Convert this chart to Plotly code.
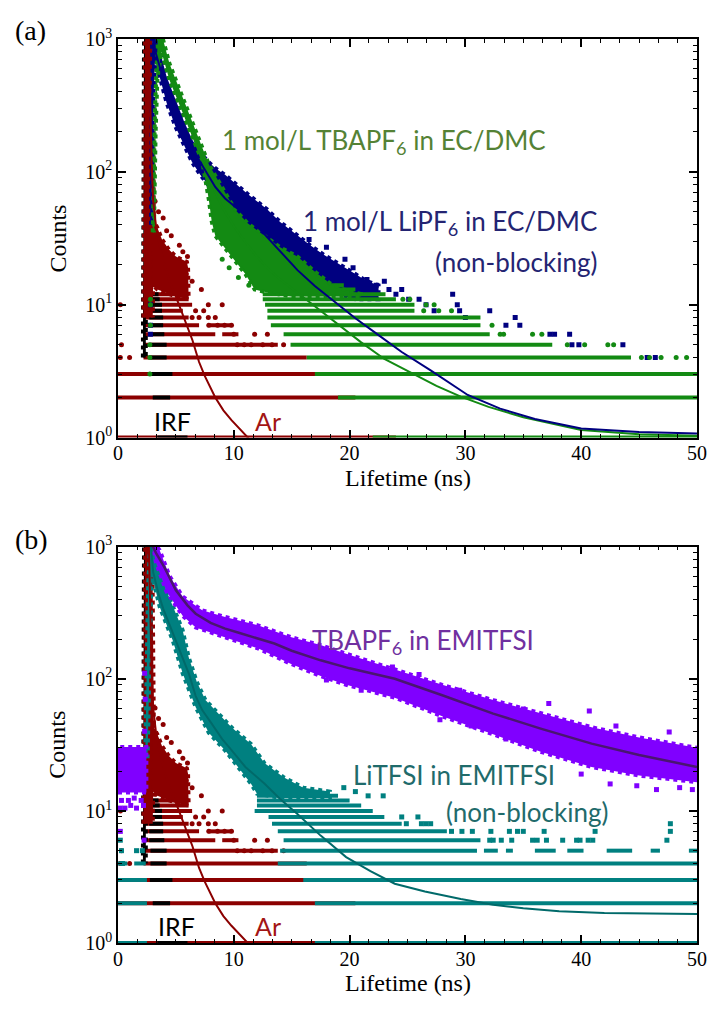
import plotly.graph_objects as go

# ======================= DATA =======================
# ---- Ar (dark red), same measurement in both panels ----
ar_spike_t = [2.2, 2.35, 2.95, 3.1, 3.0]
ar_spike_c = [8, 1300, 1300, 40, 8]
ar_cluster_t = [2.95, 3.4, 3.8, 4.4, 5.0, 5.6, 5.95, 6.05, 6.1, 5.0, 4.0, 3.4, 3.0]
ar_cluster_c = [45, 38, 31, 26, 23, 21.5, 21, 19, 11, 11.5, 12.5, 13, 14]
ar_row_c = [1, 2, 3, 4, 5, 6, 6, 7, 7, 8, 9, 10, 11, 12]
ar_row_t0 = [0, 0, 0, 2.2, 2.2, 2.2, 9.0, 2.2, 7.8, 2.2, 2.2, 2.2, 2.6, 2.8]
ar_row_t1 = [24, 20.5, 20, 16.3, 13.8, 8.4, 10.4, 7.0, 9.8, 6.1, 5.6, 6.4, 6.1, 6.1]
ar_dot_t = [0.2, 1.0, 0.3, 0.2, 10.3, 10.9, 11.5, 12.5, 13.3, 14.3, 10.0, 11.8, 12.9, 7.84, 8.6,
            9.2, 9.8, 6.4, 7.0, 7.8, 8.4, 6.7, 7.4, 7.8, 9.0, 7.2, 6.4, 5.9, 5.3, 4.6, 3.9,
            3.2, 3.5, 4.2, 5.6, 6.0]
ar_dot_c = [4, 4, 5, 10, 5, 5, 5, 5, 5, 5, 6, 6, 6, 7, 7,
            7, 7, 8, 8, 8, 8, 9, 9, 10, 10, 13, 15, 17, 28, 33, 45,
            60, 50, 36, 25, 23]
ar_fit_t = [2.62, 2.68, 2.8, 2.9, 3.04, 3.3, 3.6, 4.0, 4.5, 5.0, 5.58, 6.0, 6.43, 7.0, 7.5,
            8.4, 9.1, 9.8, 10.4, 10.95, 11.5]
ar_fit_c = [1500, 1000, 300, 120, 60, 38, 28, 20, 14.5, 11.5, 8.5, 6.8, 5.4, 3.7, 2.9,
            2.0, 1.6, 1.35, 1.18, 1.05, 0.94]

# ---- IRF (black), same in both panels ----
irf_spike_t = [2.15, 2.25, 2.45, 2.4]
irf_spike_c = [4, 1300, 1300, 4]
irf_row_c = [1, 2, 3, 4, 5, 6, 7, 8, 9, 10, 11, 12]
irf_row_t0 = [3.4, 3.0, 2.75, 2.8, 2.8, 2.7, 2.7, 2.7, 2.6, 2.6, 2.5, 2.5]
irf_row_t1 = [6.0, 4.5, 4.7, 4.2, 4.2, 4.0, 3.9, 3.9, 3.8, 3.8, 3.6, 3.5]

# ---- (a) 1 mol/L LiPF6 in EC/DMC (navy) ----
navy_poly_t = [2.85, 2.95, 3.35, 3.6, 4.2, 5.0, 5.7, 6.4, 7.1, 7.84, 8.5, 9.25, 10.2, 11.2, 12.0,
               12.9, 14.0, 15.5, 16.6, 17.7, 19.1, 20.5, 21.5, 22.5,
               22.5, 20.5, 19.1, 17.7, 15.5, 13.5, 12.0, 11.2, 10.2, 9.25, 8.5, 7.84, 7.1, 6.4,
               5.7, 5.0, 4.2, 3.6, 3.2, 3.0, 2.95]
navy_poly_c = [40, 1100, 1100, 820, 520, 340, 240, 175, 140, 118, 105, 95, 80, 68, 60,
               52, 42, 33, 28, 24, 20, 17, 15, 14,
               11, 11, 12, 13, 15, 20, 27, 35, 42, 55, 66, 78, 95, 118,
               160, 215, 330, 500, 700, 300, 40]
navy_dot_t = [28.9, 32.1, 34.3, 33.5, 34.7, 37.3, 37.7, 39.0, 39.2, 39.8, 43.6, 45.7, 46.4, 21.5,
              22.3, 23.4, 24.0, 25.1, 26.0, 26.6, 27.3, 29.3, 29.5, 30.0, 16.5, 18.0, 19.6, 20.3,
              2.8, 2.8, 2.8, 23.0, 24.5]
navy_dot_c = [12, 9, 8, 7, 7, 6, 6, 6, 5, 5, 5, 4, 4, 15.5,
              14, 13, 12, 11, 11, 10, 9, 10, 9, 8, 31, 27, 22, 19,
              6, 7, 10, 15, 13]
navy_fit_t = [3.0, 3.2, 3.6, 4.2, 5.0, 5.8, 6.5, 7.2, 7.84, 8.4, 9.25, 10.2, 11.2, 12.5, 14.0,
              15.5, 17.0, 18.86, 20.5, 22.5, 24.5, 27.0, 30.2, 33.0, 36.0, 40.0, 45.0, 50.0]
navy_fit_c = [1100, 820, 620, 420, 273, 190, 145, 115, 91, 77, 63, 54, 45.7, 35, 25,
              18.2, 13.8, 10.2, 7.9, 5.9, 4.4, 3.2, 2.09, 1.65, 1.38, 1.17, 1.1, 1.07]

# ---- (a) 1 mol/L TBAPF6 in EC/DMC (green) ----
green_poly_t = [3.0, 3.2, 3.45, 3.75, 4.45, 5.58, 6.71, 7.84, 8.97, 10.1, 11.2, 12.6, 14.0, 15.5,
                16.9, 18.3, 19.5, 21.0,
                21.0, 18.0, 15.0, 12.6, 11.8, 11.0, 9.8, 8.4, 8.1, 7.84, 7.27, 5.86, 4.45, 3.75,
                3.4, 3.25, 3.1]
green_poly_c = [35, 300, 1100, 1100, 650, 363, 202, 114, 77, 52, 41, 33, 27, 23,
                18, 14.5, 13, 12,
                11.5, 11.5, 11.5, 12.5, 13, 17, 23, 33, 42, 62, 120, 245, 490, 800,
                500, 200, 35]
green_row_c = [1, 2, 3, 4, 5, 6, 7, 8, 9, 10, 11, 12, 13, 14]
green_row_t0 = [22, 19, 17, 16.3, 14.9, 14.3, 13.2, 12.9, 12.9, 12.7, 12.5, 12.5, 13.0, 14.0]
green_row_t1 = [50, 50, 50, 44.3, 37.5, 32.1, 31.3, 31.3, 25.6, 25.6, 24.0, 23.1, 20.5, 19.5]
green_dot_t = [45.2, 45.9, 46.9, 48.2, 49.1, 38.8, 40.3, 42.3, 42.8, 33.0, 33.3, 35.8, 36.6, 32.3,
               26.4, 27.7, 28.8, 26.6, 27.3, 24.6, 25.2, 2.75, 2.75, 2.75, 2.8, 2.8, 2.8,
               9.0, 9.6, 10.4, 11.3]
green_dot_c = [4, 4, 4, 4, 4, 5, 5, 5, 5, 6, 6, 6, 6, 7,
               9, 9, 9, 10, 10, 11, 11, 3, 4, 5, 7, 10, 11,
               22, 19, 16, 14]
green_fit_t = [3.5, 3.75, 4.45, 5.0, 5.58, 6.14, 6.71, 7.3, 7.84, 8.4, 9.0, 10.0, 11.0, 12.0, 13.0,
               14.0, 15.5, 17.0, 18.86, 21.0, 23.0, 25.4, 27.5, 29.6, 32.0, 35.0, 40.0, 45.0, 50.0]
green_fit_c = [1100, 900, 570, 420, 300, 220, 165, 120, 92, 70, 54, 39, 29.5, 23, 18.5,
               15.5, 12.3, 9.7, 7.2, 5.2, 3.9, 3.04, 2.45, 2.03, 1.7, 1.42, 1.14, 1.06, 1.03]

# ---- (b) TBAPF6 in EMITFSI (purple) ----
purple_poly_t = [2.95, 3.0, 3.6, 4.45, 5.58, 7.27, 9.25, 12.08, 14.9, 17.5, 19.7, 23.9, 28.0, 32.4,
                 36.5, 40.9, 45.0, 50.0,
                 50.0, 45.0, 40.9, 36.5, 32.4, 28.0, 23.9, 19.7, 17.5, 14.9, 12.08, 9.25, 6.71,
                 5.58, 4.17, 3.3, 2.95]
purple_poly_c = [1100, 1100, 940, 600, 420, 330, 294, 254, 207, 180, 155, 118, 90, 69,
                 55, 43, 36, 30,
                 16.5, 18.5, 21.5, 28, 38, 52, 72, 90, 105, 130, 170, 205, 245,
                 300, 460, 750, 1000]
purple_bg_t = [0, 2.45, 2.45, 0]
purple_bg_c = [13.8, 13.8, 30.5, 30.5]
purple_dot_t = [23.7, 37.2, 40.7, 47.6, 40.0, 42.5, 44.8, 46.5, 48.5, 49.6, 33.5, 30.5,
                27.8, 21.0, 18.0, 26.0, 29.5, 35.0, 43.0, 0.2, 0.6, 1.1, 1.6, 2.2, 0.2, 2.25,
                0.3, 0.9, 1.4, 2.0, 2.3, 2.35, 2.3]
purple_dot_c = [123, 65, 57, 39.5, 19, 16, 15.5, 14.5, 15, 14.5, 35, 44,
                49, 82, 98, 108, 82, 59, 44, 10.5, 10.5, 11, 10.5, 11, 7, 6,
                12, 12, 12.5, 12, 40, 70, 110]
purple_fit_t = [3.0, 3.3, 4.0, 5.0, 6.0, 6.71, 8.0, 9.25, 10.5, 12.0, 13.5, 15.0, 17.5, 20.0,
                23.9, 28.0, 32.4, 36.5, 40.9, 45.0, 50.0]
purple_fit_c = [1000, 890, 700, 468, 360, 311, 265, 240, 222, 203, 185, 163, 138, 120,
                100, 75, 54.5, 42, 32.3, 26.5, 21.5]

# ---- (b) LiTFSI in EMITFSI (teal) ----
teal_poly_t = [2.35, 2.6, 2.8, 3.1, 4.17, 5.58, 6.1, 6.8, 7.55, 8.7, 9.8, 11.5, 12.64, 14.3, 16.0,
               18.3,
               18.3, 14.0, 12.0, 11.5, 10.4, 9.25, 7.84, 6.71, 5.58, 4.73, 3.6, 2.9, 2.55]
teal_poly_c = [25, 500, 1100, 1100, 468, 234, 146, 95, 69, 54, 43, 32, 23, 18, 15,
               14,
               12.5, 12.5, 13.5, 16, 21.5, 28.7, 39, 61, 110, 195, 350, 625, 25]
teal_row_c = [1, 1, 2, 2, 3, 3, 4, 4, 4, 5, 5, 5, 5, 5, 5, 5, 5, 6, 7, 8, 9, 10, 11, 12, 13]
teal_row_t0 = [0, 17, 0, 17, 0, 16, 0, 1.4, 13.8, 14.0, 31.6, 33.5, 36.0, 38.8, 42.2, 46.0, 49.3,
               14.3, 13.8, 13.3, 13.0, 11.8, 12.0, 12.0, 12.0]
teal_row_t1 = [2.5, 50, 2.5, 50, 2.5, 50, 0.8, 2.4, 50, 31.0, 32.8, 34.1, 37.8, 40.2, 44.4, 46.8, 50,
               31.3, 28.4, 24.5, 23.0, 22.0, 21.0, 20.0, 19.0]
teal_dot_t = [32.1, 32.4, 33.1, 34.0, 35.8, 36.2, 37.0, 38.4, 39.6, 39.9, 40.6, 41.0, 47.4,
              28.8, 29.7, 30.6, 32.2, 33.8, 34.5, 35.0, 36.8, 41.2, 47.7,
              24.9, 26.2, 26.6, 27.0, 47.7, 24.5, 25.9, 19.5, 20.5, 21.6, 22.9,
              0.3, 1.6, 2.1, 0.2, 0.4]
teal_dot_c = [6, 6, 6, 6, 6, 6, 6, 6, 6, 6, 6, 6, 6,
              7, 7, 7, 7, 7, 7, 7, 7, 7, 7,
              8, 8, 8, 8, 8, 9, 9, 15, 14, 13, 13,
              5, 5, 5, 6, 4]
teal_fit_t = [2.8, 3.04, 3.5, 3.9, 4.5, 5.0, 5.6, 6.14, 6.71, 7.27, 8.0, 8.4, 9.0, 9.82, 11.0,
              12.64, 14.0, 15.47, 17.5, 19.7, 21.8, 23.9, 26.5, 29.6, 32.4, 35.0, 38.1, 42.0,
              46.0, 50.0]
teal_fit_c = [1100, 640, 440, 340, 250, 195, 145, 108, 74, 58, 47, 42, 35, 28.7, 21.5,
              16.1, 12.3, 9.5, 6.5, 4.47, 3.5, 2.81, 2.45, 2.15, 1.95, 1.83, 1.74, 1.69,
              1.67, 1.66]

x_ticks = [0, 10, 20, 30, 40, 50]
y_ticks = [1, 10, 100, 1000]
y_ticktext = ["10<sup>0</sup>", "10<sup>1</sup>", "10<sup>2</sup>", "10<sup>3</sup>"]
y_minor = [m * d for d in (1, 10, 100) for m in range(2, 10)]

# ======================= STYLE =======================
RED = "#8b0000"
NAVY = "#000080"
GREEN = "#138a13"
PURPLE = "#8000ff"
TEAL = "#008080"
ROW_W = 4
DOT = 5

fig = go.Figure()


def rows(levels, t0, t1):
    xs, ys = [], []
    for c, a, b in zip(levels, t0, t1):
        xs += [a, b, None]
        ys += [c, c, None]
    return xs, ys


def add_rows(levels, t0, t1, color, ax):
    xs, ys = rows(levels, t0, t1)
    fig.add_trace(go.Scatter(x=xs, y=ys, mode="lines", line=dict(color=color, width=ROW_W),
                             xaxis=ax[0], yaxis=ax[1], hoverinfo="skip"))


def add_poly(t, c, color, ax):
    # filled band with a dotted outline, so the edge looks like scattered points
    fig.add_trace(go.Scatter(x=t, y=c, mode="lines", fill="toself", fillcolor=color,
                             line=dict(color=color, width=4, dash="dot"),
                             xaxis=ax[0], yaxis=ax[1], hoverinfo="skip"))


def add_dots(t, c, color, ax, symbol="circle"):
    fig.add_trace(go.Scatter(x=t, y=c, mode="markers",
                             marker=dict(color=color, size=DOT, symbol=symbol, line=dict(width=0)),
                             xaxis=ax[0], yaxis=ax[1]))


def add_fit(t, c, color, ax, w=2):
    fig.add_trace(go.Scatter(x=t, y=c, mode="lines", line=dict(color=color, width=w),
                             xaxis=ax[0], yaxis=ax[1]))


A = ("x", "y")
B = ("x2", "y2")

# ---- panel (a) ----
add_rows(ar_row_c, ar_row_t0, ar_row_t1, RED, A)
add_rows(irf_row_c, irf_row_t0, irf_row_t1, "black", A)
add_poly(irf_spike_t, irf_spike_c, "black", A)
add_poly(ar_spike_t, ar_spike_c, RED, A)
add_poly(ar_cluster_t, ar_cluster_c, RED, A)
add_dots(ar_dot_t, ar_dot_c, RED, A)
add_poly(navy_poly_t, navy_poly_c, NAVY, A)
add_dots(navy_dot_t, navy_dot_c, NAVY, A, "square")
add_rows(green_row_c, green_row_t0, green_row_t1, GREEN, A)
add_poly(green_poly_t, green_poly_c, GREEN, A)
add_dots(green_dot_t, green_dot_c, GREEN, A)
add_fit(ar_fit_t, ar_fit_c, RED, A)
add_fit(green_fit_t, green_fit_c, GREEN, A)
add_fit(navy_fit_t, navy_fit_c, NAVY, A)

# ---- panel (b) ----
add_rows(ar_row_c, ar_row_t0, ar_row_t1, RED, B)
add_rows(irf_row_c, irf_row_t0, irf_row_t1, "black", B)
add_poly(irf_spike_t, irf_spike_c, "black", B)
add_poly(ar_spike_t, ar_spike_c, RED, B)
add_poly(ar_cluster_t, ar_cluster_c, RED, B)
add_dots(ar_dot_t, ar_dot_c, RED, B)
add_rows(teal_row_c, teal_row_t0, teal_row_t1, TEAL, B)
add_poly(teal_poly_t, teal_poly_c, TEAL, B)
add_dots(teal_dot_t, teal_dot_c, TEAL, B, "square")
add_poly(purple_bg_t, purple_bg_c, PURPLE, B)
add_poly(purple_poly_t, purple_poly_c, PURPLE, B)
add_dots(purple_dot_t, purple_dot_c, PURPLE, B, "square")
add_fit(ar_fit_t, ar_fit_c, RED, B)
add_fit(teal_fit_t, teal_fit_c, "#006a6a", B)
add_fit(purple_fit_t, purple_fit_c, "#4a1570", B, 2.5)

# ======================= LAYOUT =======================
L, R, T, Bm = 118, 12, 39, 67
W, H = 719, 1010
PW, PH = W - L - R, H - T - Bm

SERIF = "Liberation Serif, Times New Roman, serif"
TICKFONT = dict(family=SERIF, size=20, color="black")


def xax(anchor):
    return dict(range=[0, 50], tickvals=x_ticks, ticks="inside", ticklen=8, tickwidth=1.5,
                tickcolor="black", showline=True, linecolor="black", linewidth=1.5,
                mirror="ticks", showgrid=False, zeroline=False, anchor=anchor,
                tickfont=TICKFONT, ticklabelstandoff=-3,
                minor=dict(ticks="inside", ticklen=4, tickwidth=1.2, tickcolor="black",
                           dtick=10 / 6, tick0=0, showgrid=False))


def yax(domain, anchor):
    return dict(type="log", range=[0, 3], tickvals=y_ticks, ticktext=y_ticktext,
                ticks="inside", ticklen=8, tickwidth=1.5, tickcolor="black",
                showline=True, linecolor="black", linewidth=1.5, mirror="ticks",
                showgrid=False, zeroline=False, domain=domain, anchor=anchor,
                tickfont=TICKFONT,
                minor=dict(ticks="inside", ticklen=4, tickwidth=1.2, tickcolor="black",
                           tickmode="array", tickvals=y_minor, showgrid=False))


def P(xp, yp):
    return (xp - L) / PW, (H - Bm - yp) / PH


top_dom = [P(0, 437.5)[1], 1.0]
bot_dom = [0.0, P(0, 546.7)[1]]

annotations = []


def note(text, xp, yp, color, size, family="Lato", xanchor="left", angle=0):
    x, y = P(xp, yp)
    annotations.append(dict(text=text, x=x, y=y, xref="paper", yref="paper",
                            xanchor=xanchor, yanchor="middle", showarrow=False,
                            textangle=angle, font=dict(family=family, size=size, color=color)))


note("(a)", 29, 31, "black", 28, SERIF, "center")
note("(b)", 30, 539, "black", 28, SERIF, "center")
note("Counts", 56, 238.5, "black", 24, SERIF, "center", -90)
note("Counts", 56, 744.6, "black", 24, SERIF, "center", -90)
note("Lifetime (ns)", 412.5, 478, "black", 24, SERIF, "center")
note("Lifetime (ns)", 412.5, 983, "black", 24, SERIF, "center")

note("1 mol/L TBAPF<sub>6</sub> in EC/DMC", 222, 141, "#548235", 26)
note("1 mol/L LiPF<sub>6</sub> in EC/DMC", 607, 223, "#242472", 26, xanchor="right")
note("(non-blocking)", 607, 262, "#242472", 26, xanchor="right")
note("IRF", 153, 421.5, "black", 25)
note("Ar", 255, 421.5, "#a31515", 25)

note("TBAPF<sub>6</sub> in EMITFSI", 313, 641, "#7030a0", 26)
note("LiTFSI in EMITFSI", 355, 775, "#1f6b6b", 26)
note("(non-blocking)", 450, 812, "#1f6b6b", 26)
note("IRF", 157, 926, "black", 25)
note("Ar", 255, 926, "#a31515", 25)

fig.update_layout(
    width=W, height=H, margin=dict(l=L, r=R, t=T, b=Bm, pad=0),
    plot_bgcolor="white", paper_bgcolor="white", showlegend=False,
    xaxis=xax("y"), yaxis=yax(top_dom, "x"),
    xaxis2=xax("y2"), yaxis2=yax(bot_dom, "x2"),
    annotations=annotations,
)

fig.write_html("out.html", config={"displayModeBar": False},
               post_script="document.body.style.margin='0px';")
